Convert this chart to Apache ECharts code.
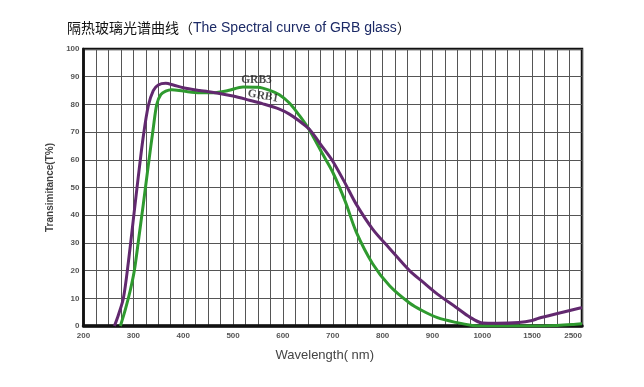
<!DOCTYPE html>
<html>
<head>
<meta charset="utf-8">
<script src="https://cdn.jsdelivr.net/npm/echarts@6/dist/echarts.min.js"></script>
<style>html,body{margin:0;padding:0;background:#fff;}#c{width:644px;height:387px;}</style>
</head>
<body>
<div id="c"></div>
<script>
// ---- data (wavelength in nm, transmittance in %) ----
var titleCN = '隔热玻璃光谱曲线';
var titleEN = 'The Spectral curve of GRB glass';
var xTickLabels = [200, 300, 400, 500, 600, 700, 800, 900, 1000, 1500, 2500];
var grb1Wavelength = [262, 270, 280, 290, 300, 310, 320, 330, 340, 350, 365, 380, 400, 433, 450, 500, 533, 560, 593, 613, 633, 653, 680, 700, 725, 747, 780, 814, 854, 880, 910, 947, 975, 1000, 1150, 1365, 1500, 1630, 2030, 2440, 2500];
var grb1Values     = [0,   4,   10,  23,  38.5,54,  68.5,79.5,85,  87,  87.6,87,  86,  85,  84.6,83,  81.5,80.2,78.3,76.5,74,  71,  64.5,59.5,51.5,44,  35,  28,  20,  16,  11.5,6.8, 3.2, 1.1, 1.0, 1.3, 2.0, 2.8, 4.6, 6.4, 6.6];
var grb3Wavelength = [274, 284, 294, 302, 310, 320, 330, 340, 347, 355, 365, 377, 400, 433, 460, 490, 520, 550, 575, 593, 613, 633, 653, 680, 700, 725, 747, 780, 814, 854, 880, 910, 947, 980, 1000, 1500, 2000, 2300, 2500];
var grb3Values     = [0,   6,   13,  20,  30.5,44,  58,  71.5,80,  83.5,84.8,85.3,84.8,84.2,84.2,85,  86.3,86.2,85,  83.5,80.5,76,  70.8,62,  55.5,45,  34,  22.5,14.5,8.3, 5.5, 3,   1.3, 0.2, 0,   0,   0.2, 0.5, 0.8];
var seriesNames = ['GRB3', 'GRB1'];
var seriesLabelAt = [[547, 88.8], [560, 83.0]];

// Broken wavelength axis: 200-1000 linear, 1000-1500 and 1500-2500 compressed
function toAxis(nm) {
  if (nm <= 1000) return nm;
  if (nm <= 1500) return 1000 + (nm - 1000) * 0.2;
  return 1100 + (nm - 1500) * 0.1;
}
function fromAxis(u) {
  if (u <= 1000) return u;
  if (u <= 1100) return 1000 + (u - 1000) / 0.2;
  return 1500 + (u - 1100) / 0.1;
}
function pairs(xs, ys) { return xs.map(function (x, i) { return [toAxis(x), ys[i]]; }); }

var chart = echarts.init(document.getElementById('c'), null, {renderer: 'canvas'});
var lblFont = {fontSize: 11.5, fontWeight: 'bold', fontFamily: '"Liberation Serif","DejaVu Serif",serif', color: '#1e1e1e'};
chart.setOption({
  animation: false,
  backgroundColor: '#fff',
  title: {
    text: '{cn|' + titleCN + '（}{en|' + titleEN + '}{cn|）}',
    left: 62, top: 16,
    textStyle: {
      fontWeight: 'normal',
      rich: {
        cn: {fontSize: 14, fontWeight: 'normal', color: '#111', fontFamily: '"Noto Sans CJK SC","Liberation Sans",sans-serif'},
        en: {fontSize: 14, fontWeight: 'normal', color: '#1c2a66', fontFamily: '"Liberation Sans",Arial,sans-serif'}
      }
    }
  },
  grid: {left: 83.5, right: 62, top: 49, bottom: 61, show: true, borderColor: '#111', borderWidth: 2.5, containLabel: false},
  xAxis: {
    type: 'value', min: 200, max: 1200, interval: 25,
    name: 'Wavelength( nm)', nameLocation: 'middle', nameGap: 23,
    nameTextStyle: {fontSize: 13, color: '#444', fontFamily: '"Liberation Sans",Arial,sans-serif', padding: [0, 16, 0, 0]},
    axisLine: {show: true, lineStyle: {color: '#111', width: 3.5}},
    axisTick: {show: false},
    splitLine: {show: true, lineStyle: {color: '#555', width: 1}},
    axisLabel: {
      customValues: xTickLabels.map(toAxis),
      alignMaxLabel: 'right',
      margin: 6, fontSize: 8, fontWeight: 'bold', color: '#555',
      fontFamily: '"Liberation Sans",Arial,sans-serif',
      formatter: function (v) { return String(Math.round(fromAxis(v))); }
    }
  },
  yAxis: {
    type: 'value', min: 0, max: 100, interval: 10,
    name: 'Transimitance(T%)', nameLocation: 'middle', nameGap: 19,
    nameTextStyle: {fontSize: 10, fontWeight: 'bold', color: '#444', fontFamily: '"Liberation Sans",Arial,sans-serif'},
    axisLine: {show: true, lineStyle: {color: '#111', width: 2.5}},
    axisTick: {show: false},
    splitLine: {show: true, lineStyle: {color: '#555', width: 1}},
    axisLabel: {margin: 4, fontSize: 8, fontWeight: 'bold', color: '#555', fontFamily: '"Liberation Sans",Arial,sans-serif'}
  },
  series: [
    {
      name: seriesNames[0], type: 'line', data: pairs(grb3Wavelength, grb3Values),
      smooth: 0.3, showSymbol: false, symbol: 'none',
      lineStyle: {color: '#2f9a2f', width: 3}
    },
    {
      name: seriesNames[1], type: 'line', data: pairs(grb1Wavelength, grb1Values),
      smooth: 0.3, showSymbol: false, symbol: 'none',
      lineStyle: {color: '#62296f', width: 3}
    },
    {
      name: 'labels', type: 'scatter', z: 10, silent: true,
      symbolSize: 1, itemStyle: {color: 'rgba(0,0,0,0)'},
      data: seriesLabelAt.map(function (p, i) {
        return {
          value: [toAxis(p[0]), p[1]],
          label: Object.assign({show: true, position: 'inside', rotate: i === 1 ? -10 : 0, formatter: seriesNames[i]}, lblFont)
        };
      })
    }
  ]
});
</script>
</body>
</html>
